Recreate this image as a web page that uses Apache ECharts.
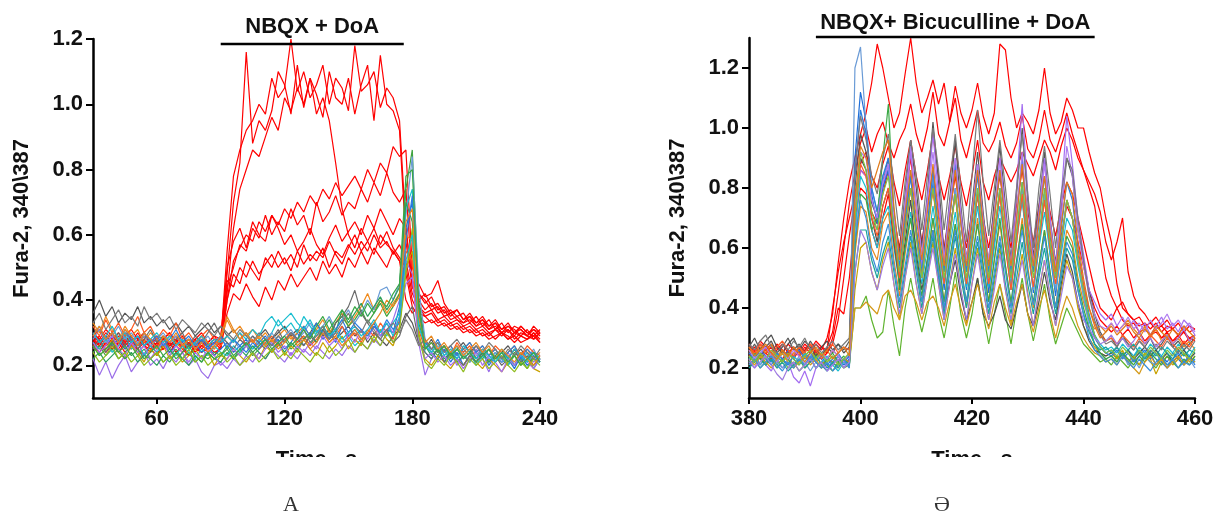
<!DOCTYPE html>
<html>
<head>
<meta charset="utf-8">
<script src="https://cdn.jsdelivr.net/npm/echarts@6/dist/echarts.min.js"></script>
<style>
html, body { margin: 0; padding: 0; background: #fff; }
#main { width: 1217px; height: 516px; }
</style>
</head>
<body>
<div id="main"></div>
<script>
// ---- panel A : NBQX + DoA (time, s) ----
var timeA = [30,33,36,39,42,45,48,51,54,57,60,63,66,69,72,75,78,81,84,87,90,93,96,99,102,105,108,111,114,117,120,123,126,129,132,135,138,141,144,147,150,153,156,159,162,165,168,171,174,177,180,183,186,189,192,195,198,201,204,207,210,213,216,219,222,225,228,231,234,237,240];
var xTicksA = [60, 120, 180, 240];
var yTicks = [0.2, 0.4, 0.6, 0.8, 1.0, 1.2];
var barA = [90, 176];

// responding cells (red)
var aRed1 = [0.30,0.28,0.31,0.29,0.27,0.30,0.28,0.26,0.29,0.27,0.28,0.26,0.27,0.29,0.26,0.28,0.25,0.27,0.26,0.28,0.27,
  0.55,0.78,0.86,0.92,0.95,1.00,0.97,1.08,1.02,1.05, 1.20,1.04,1.10,1.02,1.06,1.12,1.00,1.08,1.05,0.98,
  1.18,1.04,1.06,1.10,0.99,1.05,1.02,0.95,0.62,0.46, 0.42,0.40,0.37,0.38,0.35,0.36,0.34,0.33,0.35,0.32,
  0.34,0.31,0.33,0.30,0.32,0.31,0.29,0.31,0.28,0.30];
var aRed2 = [0.27,0.29,0.26,0.28,0.30,0.27,0.29,0.26,0.28,0.25,0.27,0.29,0.26,0.28,0.27,0.25,0.28,0.26,0.27,0.25,0.28,
  0.48,0.70,0.82,1.16,0.88,0.95,0.92,0.98,1.10,1.06, 0.97,1.12,0.99,1.08,1.03,0.96,1.10,1.02,1.00,1.08,
  0.97,1.06,1.12,0.95,1.15,1.00,0.98,0.92,0.58,0.44, 0.40,0.37,0.39,0.36,0.37,0.34,0.35,0.33,0.34,0.32,
  0.33,0.31,0.32,0.30,0.31,0.29,0.32,0.30,0.31,0.29];
var aRed3 = [0.29,0.27,0.30,0.28,0.26,0.29,0.27,0.30,0.27,0.28,0.26,0.28,0.30,0.27,0.26,0.28,0.27,0.29,0.26,0.27,0.28,
  0.42,0.62,0.74,0.80,0.86,0.84,0.90,0.96,0.92,1.02, 0.98,1.05,1.00,1.08,0.97,1.02,0.95,0.82,0.68,0.60,
  0.56,0.62,0.58,0.54,0.60,0.57,0.55,0.52,0.40,0.36, 0.38,0.35,0.36,0.33,0.34,0.32,0.33,0.31,0.32,0.30,
  0.31,0.29,0.31,0.30,0.28,0.30,0.29,0.28,0.30,0.27];
var aRed4 = [0.26,0.28,0.25,0.27,0.29,0.26,0.28,0.25,0.27,0.26,0.28,0.25,0.27,0.26,0.24,0.27,0.25,0.28,0.26,0.27,0.25,
  0.40,0.52,0.56,0.60,0.58,0.64,0.61,0.66,0.63,0.68, 0.65,0.70,0.67,0.72,0.69,0.74,0.71,0.76,0.72,0.75,
  0.78,0.74,0.80,0.76,0.82,0.79,0.87,0.84,0.86,0.50, 0.45,0.41,0.42,0.46,0.39,0.36,0.37,0.34,0.36,0.33,
  0.35,0.32,0.33,0.31,0.33,0.30,0.32,0.30,0.29,0.31];
var aRed5 = [0.28,0.26,0.29,0.27,0.25,0.28,0.26,0.29,0.26,0.27,0.25,0.28,0.26,0.27,0.29,0.26,0.28,0.25,0.27,0.29,0.26,
  0.44,0.50,0.57,0.55,0.62,0.59,0.66,0.60,0.64,0.61, 0.68,0.63,0.66,0.60,0.70,0.64,0.67,0.72,0.66,0.70,
  0.68,0.74,0.70,0.76,0.72,0.79,0.73,0.70,0.74,0.46, 0.42,0.39,0.41,0.37,0.38,0.35,0.37,0.34,0.35,0.33,
  0.34,0.32,0.34,0.31,0.32,0.30,0.31,0.29,0.31,0.30];
var aRed6 = [0.27,0.25,0.28,0.26,0.24,0.27,0.25,0.28,0.26,0.24,0.27,0.25,0.26,0.28,0.25,0.27,0.24,0.26,0.25,0.27,0.26,
  0.46,0.44,0.50,0.47,0.52,0.48,0.51,0.54,0.50,0.53, 0.49,0.55,0.51,0.54,0.52,0.56,0.50,0.55,0.53,0.57,
  0.54,0.58,0.55,0.60,0.56,0.58,0.54,0.57,0.52,0.42, 0.38,0.36,0.37,0.34,0.35,0.33,0.34,0.32,0.33,0.31,
  0.32,0.30,0.31,0.29,0.31,0.28,0.30,0.29,0.28,0.30];
var aRed7 = [0.25,0.27,0.24,0.26,0.28,0.25,0.27,0.24,0.26,0.25,0.23,0.26,0.24,0.27,0.25,0.23,0.26,0.24,0.25,0.23,0.26,
  0.40,0.48,0.45,0.52,0.49,0.46,0.53,0.50,0.55,0.51, 0.54,0.50,0.57,0.52,0.55,0.53,0.58,0.54,0.51,0.56,
  0.60,0.55,0.58,0.62,0.57,0.61,0.56,0.53,0.50,0.40, 0.36,0.35,0.33,0.34,0.32,0.33,0.31,0.32,0.30,0.31,
  0.29,0.30,0.28,0.30,0.29,0.27,0.29,0.28,0.30,0.28];
var aRed8 = [0.26,0.24,0.27,0.25,0.27,0.24,0.26,0.25,0.23,0.26,0.24,0.25,0.27,0.24,0.26,0.23,0.25,0.24,0.26,0.24,0.25,
  0.36,0.42,0.40,0.45,0.41,0.38,0.44,0.40,0.46,0.43, 0.48,0.44,0.47,0.50,0.46,0.52,0.48,0.51,0.47,0.53,
  0.50,0.55,0.51,0.56,0.53,0.50,0.55,0.52,0.48,0.38, 0.35,0.33,0.34,0.32,0.33,0.31,0.32,0.30,0.31,0.29,
  0.30,0.28,0.29,0.30,0.28,0.29,0.27,0.28,0.29,0.27];
var aRed9 = [0.29,0.31,0.28,0.30,0.27,0.29,0.31,0.28,0.30,0.27,0.29,0.28,0.30,0.27,0.29,0.26,0.28,0.30,0.27,0.29,0.28,
  0.50,0.58,0.62,0.56,0.64,0.60,0.58,0.66,0.62,0.57, 0.60,0.55,0.58,0.62,0.57,0.54,0.59,0.63,0.58,0.61,
  0.64,0.60,0.66,0.62,0.68,0.64,0.60,0.65,0.62,0.44, 0.40,0.42,0.38,0.39,0.36,0.37,0.35,0.36,0.33,0.35,
  0.32,0.34,0.31,0.33,0.30,0.32,0.31,0.29,0.32,0.30];

// non-responding cells
var aCell1 = [0.36,0.40,0.35,0.38,0.33,0.36,0.34,0.38,0.33,0.35,0.32,0.34,0.31,0.33,0.30,0.32,0.29,0.31,0.33,0.30,0.32,
  0.29,0.31,0.28,0.30,0.27,0.29,0.31,0.28,0.30,0.32, 0.29,0.31,0.28,0.30,0.33,0.29,0.31,0.28,0.30,0.32,
  0.29,0.31,0.27,0.30,0.28,0.26,0.29,0.31,0.36,0.33, 0.27,0.25,0.28,0.24,0.26,0.23,0.25,0.27,0.24,0.26,
  0.23,0.25,0.22,0.24,0.26,0.23,0.25,0.22,0.24,0.23];
var aCell2 = [0.22,0.17,0.21,0.16,0.20,0.23,0.18,0.21,0.24,0.20,0.22,0.19,0.23,0.21,0.24,0.20,0.22,0.18,0.16,0.20,0.21,
  0.19,0.22,0.20,0.23,0.21,0.24,0.22,0.25,0.23,0.21, 0.24,0.22,0.25,0.23,0.26,0.24,0.22,0.25,0.23,0.26,
  0.24,0.27,0.25,0.28,0.26,0.30,0.34,0.40,0.52,0.48, 0.27,0.17,0.22,0.25,0.21,0.24,0.20,0.23,0.21,0.25,
  0.22,0.18,0.23,0.21,0.24,0.20,0.22,0.24,0.21,0.23];
var aCell3 = [0.30,0.27,0.29,0.26,0.28,0.25,0.27,0.29,0.26,0.28,0.25,0.27,0.24,0.26,0.28,0.25,0.27,0.24,0.26,0.23,0.25,
  0.27,0.24,0.26,0.28,0.25,0.27,0.29,0.26,0.28,0.25, 0.27,0.30,0.26,0.29,0.31,0.28,0.30,0.27,0.32,0.29,
  0.31,0.28,0.30,0.33,0.29,0.31,0.30,0.38,0.62,0.70, 0.38,0.26,0.24,0.22,0.25,0.21,0.24,0.20,0.23,0.21,
  0.24,0.20,0.23,0.21,0.22,0.19,0.23,0.20,0.22,0.21];
var aCell4 = [0.33,0.30,0.35,0.31,0.28,0.32,0.29,0.31,0.27,0.30,0.28,0.26,0.29,0.27,0.25,0.28,0.26,0.29,0.27,0.25,0.28,
  0.34,0.30,0.32,0.29,0.31,0.28,0.30,0.27,0.29,0.31, 0.28,0.30,0.32,0.29,0.31,0.34,0.30,0.33,0.36,0.32,
  0.35,0.38,0.42,0.37,0.40,0.36,0.39,0.42,0.60,0.58, 0.34,0.28,0.25,0.27,0.24,0.26,0.23,0.25,0.27,0.24,
  0.26,0.23,0.25,0.22,0.24,0.26,0.23,0.25,0.22,0.24];
var aCell5 = [0.24,0.26,0.23,0.25,0.22,0.24,0.26,0.23,0.25,0.22,0.24,0.21,0.23,0.25,0.22,0.24,0.21,0.23,0.22,0.24,0.23,
  0.25,0.22,0.24,0.26,0.23,0.25,0.27,0.24,0.26,0.28, 0.25,0.27,0.29,0.26,0.30,0.32,0.29,0.33,0.35,0.32,
  0.34,0.37,0.33,0.36,0.39,0.35,0.38,0.42,0.74,0.86, 0.40,0.27,0.25,0.23,0.26,0.22,0.25,0.23,0.21,0.24,
  0.22,0.25,0.21,0.23,0.20,0.24,0.22,0.19,0.23,0.21];
var aCell6 = [0.27,0.25,0.28,0.24,0.26,0.29,0.25,0.27,0.23,0.26,0.24,0.27,0.25,0.23,0.26,0.24,0.22,0.25,0.23,0.26,0.24,
  0.23,0.26,0.24,0.27,0.25,0.28,0.26,0.30,0.34,0.31, 0.33,0.30,0.35,0.32,0.29,0.31,0.28,0.30,0.27,0.29,
  0.26,0.28,0.30,0.27,0.31,0.29,0.33,0.36,0.68,0.74, 0.36,0.24,0.22,0.25,0.21,0.23,0.26,0.22,0.24,0.20,
  0.23,0.21,0.24,0.22,0.20,0.23,0.21,0.24,0.19,0.22];
var aCell7 = [0.26,0.23,0.25,0.28,0.24,0.22,0.26,0.24,0.21,0.25,0.23,0.26,0.22,0.24,0.21,0.23,0.25,0.22,0.24,0.20,0.23,
  0.22,0.25,0.23,0.21,0.24,0.22,0.26,0.24,0.27,0.23, 0.26,0.24,0.28,0.25,0.23,0.27,0.24,0.26,0.29,0.25,
  0.28,0.26,0.30,0.27,0.31,0.28,0.26,0.32,0.50,0.55, 0.30,0.22,0.20,0.23,0.21,0.19,0.22,0.20,0.23,0.21,
  0.19,0.22,0.20,0.18,0.21,0.23,0.20,0.22,0.19,0.18];
var aCell8 = [0.28,0.31,0.27,0.29,0.32,0.28,0.30,0.27,0.29,0.26,0.28,0.30,0.27,0.29,0.26,0.28,0.25,0.27,0.29,0.26,0.28,
  0.26,0.28,0.25,0.27,0.29,0.26,0.28,0.30,0.27,0.29, 0.31,0.28,0.30,0.33,0.30,0.32,0.35,0.31,0.34,0.37,
  0.33,0.36,0.40,0.37,0.43,0.44,0.40,0.45,0.66,0.84, 0.44,0.28,0.24,0.26,0.23,0.25,0.22,0.24,0.21,0.23,
  0.25,0.22,0.24,0.21,0.23,0.20,0.24,0.22,0.25,0.21];
var aCell9 = [0.32,0.29,0.34,0.30,0.33,0.29,0.31,0.35,0.30,0.32,0.28,0.31,0.29,0.33,0.28,0.30,0.27,0.29,0.31,0.28,0.26,
  0.29,0.27,0.30,0.26,0.28,0.25,0.27,0.29,0.26,0.28, 0.30,0.27,0.29,0.26,0.28,0.31,0.27,0.29,0.32,0.28,
  0.30,0.27,0.31,0.29,0.33,0.30,0.28,0.34,0.55,0.52, 0.31,0.25,0.27,0.24,0.26,0.23,0.27,0.24,0.26,0.22,
  0.25,0.23,0.26,0.24,0.22,0.25,0.23,0.26,0.24,0.22];
var aCell10 = [0.25,0.28,0.24,0.27,0.30,0.26,0.29,0.25,0.28,0.31,0.27,0.29,0.25,0.28,0.30,0.26,0.29,0.27,0.30,0.33,0.29,
  0.27,0.25,0.28,0.26,0.29,0.27,0.25,0.28,0.31,0.27, 0.30,0.28,0.26,0.29,0.27,0.31,0.28,0.33,0.35,0.38,
  0.43,0.36,0.33,0.30,0.28,0.31,0.27,0.29,0.35,0.38, 0.27,0.24,0.22,0.25,0.21,0.24,0.22,0.20,0.23,0.21,
  0.24,0.21,0.23,0.20,0.22,0.25,0.21,0.23,0.20,0.22];
var aCell11 = [0.22,0.24,0.21,0.23,0.25,0.22,0.24,0.21,0.23,0.22,0.20,0.23,0.21,0.24,0.22,0.20,0.23,0.21,0.24,0.22,0.21,
  0.24,0.22,0.25,0.23,0.26,0.24,0.22,0.25,0.27,0.24, 0.27,0.25,0.28,0.30,0.27,0.31,0.34,0.30,0.37,0.33,
  0.36,0.39,0.35,0.38,0.41,0.37,0.40,0.44,0.70,0.64, 0.33,0.26,0.23,0.25,0.22,0.24,0.21,0.23,0.25,0.22,
  0.24,0.21,0.23,0.25,0.22,0.20,0.23,0.21,0.24,0.22];
var aCell12 = [0.27,0.24,0.26,0.29,0.25,0.23,0.27,0.24,0.26,0.22,0.25,0.27,0.23,0.26,0.24,0.21,0.24,0.22,0.25,0.23,0.20,
  0.22,0.25,0.23,0.26,0.24,0.22,0.25,0.27,0.24,0.26, 0.23,0.26,0.24,0.27,0.25,0.29,0.26,0.28,0.25,0.30,
  0.27,0.31,0.28,0.32,0.29,0.33,0.30,0.35,0.45,0.47, 0.28,0.22,0.24,0.21,0.23,0.20,0.22,0.19,0.22,0.24,
  0.20,0.23,0.21,0.18,0.22,0.20,0.23,0.21,0.19,0.22];
var aCell13 = [0.29,0.32,0.28,0.30,0.27,0.31,0.28,0.26,0.30,0.27,0.29,0.26,0.28,0.31,0.27,0.29,0.26,0.28,0.25,0.27,0.29,
  0.25,0.28,0.26,0.24,0.27,0.25,0.28,0.26,0.29,0.27, 0.30,0.28,0.32,0.29,0.33,0.30,0.28,0.31,0.34,0.30,
  0.33,0.31,0.29,0.32,0.30,0.34,0.31,0.33,0.58,0.72, 0.36,0.27,0.25,0.28,0.24,0.26,0.23,0.25,0.27,0.24,
  0.26,0.23,0.25,0.22,0.24,0.26,0.22,0.25,0.23,0.21];
var aCell14 = [0.24,0.21,0.23,0.26,0.22,0.24,0.21,0.23,0.20,0.22,0.24,0.21,0.23,0.20,0.22,0.25,0.21,0.23,0.20,0.22,0.24,
  0.21,0.23,0.20,0.22,0.24,0.21,0.23,0.25,0.22,0.24, 0.22,0.25,0.23,0.21,0.24,0.22,0.26,0.23,0.25,0.28,
  0.24,0.27,0.25,0.29,0.26,0.30,0.27,0.31,0.48,0.62, 0.29,0.21,0.19,0.22,0.20,0.23,0.21,0.18,0.22,0.20,
  0.22,0.19,0.21,0.23,0.20,0.18,0.21,0.19,0.22,0.20];
var aCell15 = [0.30,0.27,0.29,0.32,0.28,0.30,0.27,0.29,0.26,0.28,0.30,0.27,0.29,0.26,0.28,0.25,0.27,0.29,0.26,0.28,0.27,
  0.29,0.27,0.30,0.28,0.31,0.29,0.33,0.35,0.32,0.34, 0.36,0.33,0.31,0.34,0.30,0.32,0.29,0.31,0.28,0.30,
  0.32,0.29,0.31,0.34,0.30,0.33,0.29,0.35,0.52,0.60, 0.32,0.26,0.24,0.27,0.23,0.25,0.22,0.26,0.24,0.22,
  0.25,0.23,0.21,0.24,0.22,0.25,0.23,0.21,0.24,0.22];
var aCell16 = [0.33,0.36,0.31,0.34,0.37,0.33,0.35,0.32,0.38,0.34,0.36,0.33,0.35,0.31,0.34,0.32,0.30,0.33,0.31,0.29,0.32,
  0.30,0.28,0.31,0.29,0.27,0.30,0.28,0.26,0.29,0.27, 0.30,0.28,0.31,0.27,0.29,0.32,0.28,0.30,0.33,0.36,
  0.32,0.30,0.34,0.31,0.28,0.31,0.33,0.30,0.34,0.31, 0.26,0.28,0.25,0.27,0.24,0.26,0.28,0.25,0.23,0.26,
  0.24,0.27,0.25,0.22,0.25,0.23,0.26,0.24,0.22,0.25];
var aCell17 = [0.29,0.32,0.28,0.30,0.27,0.31,0.29,0.26,0.30,0.28,0.25,0.29,0.27,0.30,0.26,0.28,0.25,0.27,0.24,0.26,0.29,
  0.35,0.31,0.28,0.30,0.27,0.29,0.26,0.28,0.25,0.27, 0.29,0.26,0.28,0.25,0.27,0.30,0.27,0.29,0.26,0.28,
  0.31,0.28,0.30,0.33,0.36,0.40,0.38,0.41,0.64,0.68, 0.35,0.27,0.29,0.25,0.27,0.24,0.26,0.23,0.25,0.27,
  0.24,0.26,0.22,0.25,0.23,0.21,0.24,0.22,0.20,0.23];
var aCell18 = [0.26,0.23,0.25,0.27,0.24,0.26,0.23,0.25,0.22,0.24,0.26,0.23,0.25,0.22,0.24,0.26,0.23,0.21,0.24,0.22,0.23,
  0.26,0.23,0.25,0.27,0.24,0.26,0.28,0.25,0.27,0.29, 0.26,0.28,0.31,0.28,0.32,0.35,0.31,0.34,0.37,0.34,
  0.38,0.35,0.39,0.36,0.40,0.38,0.42,0.45,0.78,0.80, 0.38,0.25,0.27,0.24,0.26,0.23,0.25,0.22,0.24,0.21,
  0.23,0.25,0.22,0.24,0.21,0.23,0.20,0.22,0.24,0.21];

// ---- panel B : NBQX + Bicuculline + DoA (time, s) ----
var timeB = [380,381,382,383,384,385,386,387,388,389,390,391,392,393,394,395,396,397,398,399,400,401,402,403,404,405,406,407,408,409,410,411,412,413,414,415,416,417,418,419,420,421,422,423,424,425,426,427,428,429,430,431,432,433,434,435,436,437,438,439,440,441,442,443,444,445,446,447,448,449,450,451,452,453,454,455,456,457,458,459,460];
var xTicksB = [380, 400, 420, 440, 460];
var barB = [392, 442];

var bRed1 = [0.27,0.25,0.28,0.26,0.24,0.27,0.25,0.28,0.26,0.24,0.27,0.25,0.28,0.26,0.30,0.38,0.55,0.70,0.82,
  0.90,0.98,1.05,1.15,1.28,1.20,1.10,1.00,1.05,1.18,1.30,1.15,
  1.05,1.10,1.16,1.08,1.15,1.02,1.14,1.05,1.00,1.06,1.15,1.04,
  0.98,1.05,1.28,1.26,1.10,1.00,1.05,1.02,0.98,1.06,1.20,1.05,
  0.98,1.02,1.10,1.06,1.00,1.00,0.92,0.85,0.80,0.70,
  0.62,0.48,0.40,0.38,0.36,0.34,0.35,0.33,0.35,0.32,0.34,0.33,0.31,0.34,0.32,0.33];
var bRed2 = [0.25,0.27,0.24,0.26,0.28,0.25,0.23,0.26,0.24,0.27,0.25,0.23,0.26,0.24,0.27,0.32,0.45,0.60,0.75,
  0.85,0.95,1.00,0.92,0.98,1.02,0.95,0.90,0.96,1.00,1.08,0.98,
  0.92,1.00,1.12,0.98,0.94,1.02,1.10,0.96,0.90,0.98,1.06,0.95,
  0.92,0.96,1.02,0.94,0.90,0.95,1.04,0.93,0.90,0.96,1.06,0.96,
  0.92,0.98,1.05,0.98,0.92,0.86,0.80,0.74,0.62,0.50,
  0.44,0.40,0.42,0.38,0.36,0.37,0.34,0.35,0.33,0.34,0.32,0.33,0.31,0.32,0.30,0.31];
var bRed3 = [0.26,0.24,0.27,0.25,0.23,0.26,0.28,0.25,0.27,0.24,0.26,0.28,0.25,0.27,0.26,0.40,0.52,0.62,0.70,
  0.78,0.86,0.84,0.72,0.68,0.78,0.86,0.70,0.60,0.76,0.90,0.74,
  0.62,0.74,0.86,0.72,0.60,0.72,0.84,0.70,0.60,0.72,0.86,0.70,
  0.60,0.72,0.84,0.70,0.60,0.74,0.86,0.72,0.62,0.74,0.84,0.72,
  0.64,0.74,0.82,0.78,0.70,0.62,0.54,0.46,0.40,0.38,
  0.36,0.40,0.36,0.34,0.35,0.32,0.33,0.31,0.32,0.30,0.31,0.29,0.30,0.32,0.29,0.31];
var bRed4 = [0.24,0.26,0.23,0.25,0.27,0.24,0.22,0.25,0.23,0.26,0.24,0.22,0.25,0.23,0.25,0.30,0.40,0.38,0.50,
  0.70,0.80,0.78,0.66,0.60,0.70,0.78,0.62,0.52,0.66,0.80,0.66,
  0.54,0.66,0.80,0.64,0.52,0.66,0.78,0.62,0.52,0.64,0.78,0.62,
  0.52,0.64,0.78,0.62,0.50,0.64,0.76,0.62,0.52,0.64,0.76,0.60,
  0.52,0.64,0.74,0.70,0.62,0.54,0.46,0.40,0.36,0.34,
  0.32,0.34,0.31,0.33,0.30,0.32,0.29,0.31,0.33,0.30,0.32,0.29,0.31,0.28,0.30,0.29];
var bRed5 = [0.28,0.26,0.29,0.27,0.25,0.28,0.26,0.24,0.27,0.25,0.28,0.26,0.29,0.27,0.25,0.28,0.36,0.50,0.64,
  0.76,0.88,0.92,0.84,0.80,0.88,0.94,0.82,0.74,0.86,0.96,0.84,
  0.76,0.86,0.98,0.84,0.76,0.84,0.94,0.82,0.74,0.84,0.96,0.82,
  0.76,0.84,0.90,0.86,0.82,0.86,0.92,0.88,0.84,0.90,0.96,0.92,
  0.86,0.94,1.00,0.96,0.90,0.86,0.82,0.78,0.72,0.62,
  0.56,0.62,0.70,0.52,0.44,0.40,0.38,0.35,0.37,0.34,0.36,0.33,0.35,0.32,0.34,0.33];

var bCell1 = [0.25,0.28,0.24,0.27,0.29,0.25,0.27,0.30,0.26,0.28,0.25,0.29,0.26,0.24,0.27,0.25,0.28,0.26,0.29,
  0.80,0.98,0.92,0.75,0.70,0.82,0.90,0.72,0.58,0.78,0.96,0.80,
  0.60,0.78,1.02,0.82,0.58,0.76,0.96,0.74,0.56,0.74,0.92,0.72,
  0.55,0.76,0.94,0.74,0.56,0.78,1.00,0.76,0.57,0.74,0.92,0.70,
  0.55,0.72,0.90,0.84,0.66,0.56,0.46,0.38,0.32,0.29,
  0.30,0.27,0.31,0.28,0.26,0.29,0.27,0.30,0.26,0.28,0.31,0.27,0.29,0.26,0.28,0.30];
var bCell2 = [0.22,0.20,0.24,0.21,0.19,0.23,0.20,0.22,0.17,0.15,0.19,0.14,0.20,0.22,0.19,0.21,0.24,0.20,0.23,
  0.62,0.86,0.84,0.70,0.66,0.80,0.88,0.70,0.52,0.72,0.92,0.74,
  0.54,0.76,0.98,0.78,0.56,0.74,0.90,0.70,0.52,0.72,0.88,0.68,
  0.50,0.70,0.90,0.72,0.54,0.80,1.08,0.78,0.55,0.72,0.90,0.70,
  0.52,0.76,1.04,0.88,0.70,0.58,0.46,0.42,0.38,0.36,
  0.38,0.34,0.37,0.33,0.36,0.32,0.35,0.31,0.34,0.37,0.33,0.35,0.32,0.36,0.34,0.31];
var bCell3 = [0.24,0.22,0.25,0.23,0.21,0.24,0.22,0.26,0.23,0.21,0.24,0.22,0.25,0.23,0.20,0.22,0.24,0.21,0.23,
  0.90,1.12,1.02,0.78,0.68,0.80,0.86,0.66,0.50,0.68,0.84,0.66,
  0.50,0.66,0.82,0.64,0.46,0.64,0.80,0.62,0.46,0.62,0.78,0.60,
  0.45,0.62,0.80,0.62,0.46,0.64,0.82,0.62,0.45,0.60,0.78,0.58,
  0.44,0.60,0.76,0.70,0.56,0.46,0.36,0.30,0.27,0.25,
  0.26,0.23,0.25,0.22,0.24,0.26,0.23,0.25,0.21,0.24,0.22,0.25,0.23,0.21,0.24,0.22];
var bCell4 = [0.26,0.24,0.27,0.25,0.28,0.24,0.26,0.23,0.25,0.27,0.24,0.26,0.22,0.25,0.23,0.26,0.24,0.22,0.25,
  0.58,0.74,0.72,0.60,0.56,0.68,0.72,0.56,0.44,0.58,0.70,0.56,
  0.42,0.56,0.70,0.55,0.42,0.56,0.68,0.54,0.40,0.55,0.70,0.55,
  0.42,0.56,0.68,0.54,0.41,0.55,0.70,0.54,0.40,0.54,0.66,0.52,
  0.40,0.54,0.66,0.62,0.50,0.42,0.36,0.33,0.34,0.32,
  0.35,0.32,0.34,0.36,0.33,0.31,0.34,0.30,0.33,0.29,0.31,0.28,0.30,0.27,0.29,0.26];
var bCell5 = [0.21,0.23,0.20,0.22,0.24,0.21,0.23,0.20,0.22,0.19,0.21,0.23,0.20,0.22,0.21,0.19,0.22,0.20,0.21,
  0.40,0.40,0.44,0.36,0.30,0.32,0.46,0.34,0.24,0.40,0.50,0.40,
  0.32,0.40,0.50,0.38,0.30,0.40,0.52,0.38,0.30,0.38,0.50,0.38,
  0.28,0.38,0.48,0.38,0.28,0.40,0.50,0.38,0.29,0.38,0.48,0.36,
  0.28,0.34,0.40,0.36,0.32,0.28,0.26,0.24,0.22,0.23,
  0.21,0.24,0.22,0.20,0.23,0.21,0.24,0.22,0.20,0.23,0.21,0.22,0.24,0.21,0.23,0.22];
var bCell6 = [0.23,0.25,0.21,0.24,0.22,0.25,0.23,0.21,0.24,0.22,0.25,0.23,0.20,0.22,0.24,0.21,0.19,0.22,0.24,
  0.66,0.84,0.80,0.66,0.60,0.70,0.74,0.60,0.48,0.60,0.72,0.60,
  0.48,0.60,0.74,0.60,0.48,0.60,0.72,0.58,0.47,0.60,0.74,0.58,
  0.47,0.60,0.74,0.60,0.48,0.62,0.76,0.58,0.47,0.60,0.72,0.58,
  0.46,0.58,0.70,0.66,0.54,0.44,0.36,0.31,0.28,0.26,
  0.27,0.25,0.28,0.26,0.24,0.27,0.25,0.28,0.26,0.24,0.27,0.25,0.28,0.26,0.24,0.27];
var bCell7 = [0.24,0.22,0.25,0.21,0.23,0.20,0.22,0.24,0.21,0.23,0.20,0.22,0.25,0.21,0.23,0.22,0.20,0.23,0.21,
  0.46,0.60,0.62,0.52,0.46,0.56,0.62,0.48,0.36,0.50,0.62,0.48,
  0.38,0.50,0.62,0.48,0.36,0.48,0.60,0.46,0.35,0.48,0.60,0.46,
  0.36,0.48,0.60,0.46,0.35,0.47,0.58,0.45,0.34,0.45,0.56,0.44,
  0.34,0.46,0.56,0.50,0.40,0.34,0.30,0.27,0.25,0.24,
  0.25,0.23,0.26,0.22,0.24,0.21,0.25,0.23,0.18,0.22,0.24,0.21,0.23,0.25,0.22,0.24];
var bCell8 = [0.22,0.24,0.21,0.23,0.25,0.22,0.20,0.23,0.21,0.24,0.22,0.19,0.22,0.20,0.23,0.21,0.24,0.22,0.20,
  1.20,1.27,1.00,0.80,0.72,0.84,0.88,0.66,0.52,0.70,0.86,0.66,
  0.52,0.68,0.84,0.64,0.36,0.62,0.80,0.62,0.48,0.64,0.80,0.60,
  0.48,0.64,0.80,0.62,0.46,0.62,0.80,0.60,0.46,0.62,0.78,0.60,
  0.46,0.60,0.76,0.70,0.56,0.44,0.34,0.28,0.25,0.23,
  0.24,0.22,0.25,0.21,0.23,0.20,0.24,0.22,0.21,0.23,0.20,0.22,0.24,0.21,0.23,0.20];
var bCell9 = [0.27,0.30,0.26,0.29,0.31,0.27,0.25,0.28,0.30,0.26,0.29,0.27,0.24,0.27,0.29,0.26,0.28,0.25,0.27,
  0.72,0.90,0.86,0.70,0.62,0.74,0.80,0.62,0.48,0.62,0.76,0.58,
  0.46,0.56,0.66,0.52,0.40,0.48,0.56,0.44,0.36,0.42,0.50,0.38,
  0.34,0.38,0.44,0.36,0.33,0.40,0.48,0.38,0.34,0.42,0.52,0.42,
  0.36,0.48,0.58,0.52,0.42,0.34,0.29,0.26,0.25,0.24,
  0.25,0.27,0.24,0.26,0.23,0.25,0.27,0.24,0.26,0.23,0.25,0.22,0.24,0.26,0.23,0.25];
var bCell10 = [0.25,0.23,0.26,0.24,0.22,0.25,0.23,0.21,0.24,0.26,0.23,0.25,0.22,0.24,0.21,0.23,0.25,0.22,0.24,
  0.84,1.06,0.98,0.80,0.72,0.84,0.90,0.68,0.54,0.70,0.84,0.66,
  0.52,0.68,0.86,0.66,0.52,0.70,0.88,0.68,0.52,0.68,0.84,0.66,
  0.52,0.70,0.86,0.68,0.52,0.70,0.90,0.66,0.52,0.68,0.84,0.64,
  0.50,0.66,0.82,0.76,0.60,0.48,0.38,0.31,0.27,0.25,
  0.24,0.26,0.23,0.25,0.22,0.24,0.26,0.23,0.25,0.22,0.20,0.23,0.25,0.22,0.24,0.21];
var bCell11 = [0.22,0.25,0.23,0.21,0.24,0.22,0.25,0.23,0.20,0.23,0.21,0.24,0.22,0.20,0.23,0.25,0.22,0.24,0.21,
  0.60,0.78,0.76,0.66,0.70,0.90,1.08,0.70,0.46,0.60,0.70,0.56,
  0.44,0.56,0.70,0.56,0.42,0.56,0.68,0.54,0.42,0.56,0.68,0.54,
  0.42,0.56,0.70,0.54,0.42,0.56,0.68,0.52,0.42,0.54,0.66,0.52,
  0.40,0.52,0.64,0.60,0.48,0.40,0.33,0.28,0.25,0.23,
  0.24,0.22,0.25,0.23,0.21,0.24,0.22,0.25,0.23,0.21,0.24,0.22,0.20,0.23,0.21,0.24];
var bCell12 = [0.27,0.25,0.28,0.26,0.24,0.27,0.29,0.26,0.24,0.27,0.25,0.28,0.26,0.23,0.26,0.28,0.25,0.27,0.26,
  0.70,0.88,0.84,0.70,0.64,0.74,0.80,0.64,0.50,0.66,0.80,0.64,
  0.50,0.64,0.80,0.62,0.48,0.64,0.78,0.60,0.48,0.62,0.78,0.62,
  0.48,0.64,0.78,0.60,0.46,0.62,0.78,0.60,0.47,0.62,0.76,0.60,
  0.48,0.62,0.76,0.70,0.58,0.48,0.40,0.35,0.31,0.29,
  0.30,0.28,0.31,0.29,0.27,0.30,0.28,0.31,0.29,0.27,0.30,0.28,0.26,0.29,0.27,0.30];
var bCell13 = [0.26,0.23,0.25,0.27,0.24,0.22,0.25,0.23,0.26,0.24,0.21,0.24,0.22,0.25,0.23,0.26,0.24,0.22,0.25,
  0.74,0.92,0.90,0.76,0.70,0.82,0.88,0.70,0.56,0.76,0.94,0.74,
  0.58,0.76,0.92,0.74,0.56,0.74,0.90,0.72,0.56,0.72,0.88,0.70,
  0.56,0.72,0.90,0.70,0.54,0.72,0.92,0.70,0.54,0.70,0.88,0.68,
  0.54,0.70,0.94,0.84,0.66,0.54,0.44,0.38,0.34,0.33,
  0.35,0.32,0.34,0.37,0.33,0.35,0.32,0.36,0.33,0.35,0.38,0.34,0.36,0.33,0.35,0.32];
var bCell14 = [0.20,0.22,0.24,0.21,0.23,0.20,0.22,0.19,0.21,0.23,0.20,0.22,0.24,0.21,0.19,0.22,0.20,0.23,0.21,
  0.52,0.66,0.66,0.56,0.50,0.58,0.64,0.52,0.40,0.52,0.64,0.52,
  0.40,0.52,0.64,0.50,0.38,0.52,0.64,0.50,0.40,0.52,0.62,0.50,
  0.38,0.50,0.62,0.48,0.38,0.50,0.62,0.48,0.38,0.50,0.60,0.48,
  0.38,0.50,0.60,0.56,0.46,0.38,0.32,0.28,0.26,0.27,
  0.25,0.27,0.24,0.26,0.28,0.25,0.23,0.26,0.24,0.27,0.25,0.23,0.26,0.24,0.26,0.25];
var bCell15 = [0.23,0.21,0.24,0.22,0.20,0.23,0.25,0.22,0.20,0.22,0.24,0.21,0.23,0.20,0.22,0.24,0.21,0.23,0.22,
  0.40,0.40,0.42,0.40,0.38,0.44,0.46,0.40,0.36,0.44,0.46,0.42,
  0.36,0.42,0.44,0.40,0.34,0.42,0.48,0.40,0.34,0.42,0.48,0.40,
  0.33,0.42,0.48,0.40,0.34,0.42,0.48,0.38,0.32,0.40,0.46,0.38,
  0.30,0.38,0.44,0.40,0.34,0.30,0.27,0.25,0.24,0.22,
  0.23,0.21,0.24,0.22,0.20,0.18,0.22,0.24,0.21,0.23,0.20,0.22,0.24,0.21,0.23,0.22];
var bCell16 = [0.28,0.26,0.29,0.31,0.27,0.25,0.28,0.26,0.29,0.27,0.30,0.26,0.28,0.25,0.27,0.29,0.26,0.28,0.30,
  0.86,1.04,0.96,0.84,0.78,0.90,0.98,0.80,0.64,0.82,0.96,0.84,
  0.66,0.84,1.00,0.86,0.66,0.82,0.98,0.80,0.62,0.84,1.06,0.82,
  0.64,0.80,0.96,0.80,0.62,0.80,0.98,0.78,0.60,0.80,0.94,0.78,
  0.60,0.78,0.90,0.86,0.70,0.56,0.44,0.36,0.31,0.28,
  0.29,0.27,0.30,0.28,0.26,0.29,0.27,0.25,0.28,0.26,0.29,0.27,0.25,0.28,0.26,0.29];
var bCell17 = [0.21,0.23,0.20,0.22,0.24,0.21,0.19,0.22,0.20,0.23,0.21,0.24,0.22,0.20,0.22,0.19,0.21,0.23,0.20,
  0.62,0.76,0.70,0.58,0.52,0.62,0.68,0.54,0.42,0.54,0.66,0.54,
  0.42,0.54,0.66,0.52,0.40,0.54,0.66,0.52,0.42,0.54,0.64,0.52,
  0.40,0.52,0.64,0.52,0.40,0.54,0.66,0.52,0.41,0.52,0.64,0.50,
  0.40,0.52,0.62,0.58,0.46,0.38,0.30,0.26,0.24,0.22,
  0.23,0.21,0.24,0.22,0.20,0.23,0.21,0.19,0.22,0.24,0.21,0.23,0.20,0.22,0.21,0.23];
var bCell18 = [0.24,0.22,0.25,0.23,0.26,0.24,0.22,0.25,0.23,0.21,0.24,0.26,0.23,0.25,0.22,0.24,0.21,0.23,0.25,
  0.70,0.92,0.86,0.72,0.66,0.78,0.84,0.66,0.52,0.66,0.80,0.64,
  0.50,0.66,0.80,0.64,0.50,0.64,0.78,0.62,0.50,0.64,0.80,0.64,
  0.50,0.66,0.80,0.64,0.50,0.66,0.82,0.64,0.50,0.64,0.80,0.62,
  0.50,0.62,0.76,0.70,0.56,0.46,0.37,0.31,0.27,0.25,
  0.26,0.24,0.27,0.25,0.23,0.26,0.24,0.27,0.25,0.23,0.26,0.24,0.27,0.25,0.23,0.26];
var bCell19 = [0.23,0.20,0.22,0.24,0.21,0.18,0.16,0.20,0.22,0.19,0.21,0.23,0.20,0.22,0.19,0.21,0.23,0.20,0.22,
  0.52,0.66,0.62,0.52,0.46,0.54,0.60,0.48,0.38,0.50,0.60,0.48,
  0.38,0.50,0.60,0.48,0.36,0.48,0.58,0.46,0.36,0.48,0.58,0.46,
  0.36,0.46,0.58,0.46,0.36,0.46,0.56,0.44,0.34,0.46,0.56,0.44,
  0.34,0.44,0.54,0.50,0.42,0.36,0.33,0.30,0.28,0.29,
  0.31,0.28,0.30,0.27,0.29,0.32,0.28,0.30,0.27,0.29,0.31,0.28,0.30,0.33,0.29,0.31];
var bCell20 = [0.27,0.24,0.26,0.28,0.25,0.23,0.26,0.24,0.27,0.25,0.22,0.25,0.27,0.24,0.26,0.23,0.25,0.27,0.24,
  0.76,0.94,0.90,0.80,0.86,0.92,0.96,0.74,0.56,0.72,0.86,0.70,
  0.56,0.72,0.88,0.70,0.54,0.70,0.86,0.68,0.54,0.70,0.86,0.68,
  0.54,0.70,0.86,0.68,0.54,0.70,0.88,0.68,0.54,0.70,0.84,0.66,
  0.52,0.68,0.82,0.78,0.62,0.50,0.40,0.34,0.30,0.32,
  0.34,0.31,0.33,0.35,0.32,0.30,0.33,0.31,0.34,0.32,0.30,0.33,0.31,0.34,0.32,0.30];

var cellsA = [aCell1, aCell2, aCell3, aCell4, aCell5, aCell6, aCell7, aCell8, aCell9, aCell10, aCell11, aCell12, aCell13, aCell14, aCell15, aCell16, aCell17, aCell18];
var redsA = [aRed1, aRed2, aRed3, aRed4, aRed5, aRed6, aRed7, aRed8, aRed9];
var cellsB = [bCell1, bCell2, bCell3, bCell4, bCell5, bCell6, bCell7, bCell8, bCell9, bCell10, bCell11, bCell12, bCell13, bCell14, bCell15, bCell16, bCell17, bCell18, bCell19, bCell20];
var redsB = [bRed1, bRed2, bRed3, bRed4, bRed5];

var colorsA = ['#555555','#9b6ee8','#1f6fd8','#f08a1c','#3fa33f','#17bfd0','#c9a100','#6a9bd6','#ff5a1f','#6b6b6b','#2ea05a','#a56ef0','#2a7de1','#8fbc1e','#18bdd0','#7a7a7a','#e8871e','#3aa845'];
var colorsB = ['#555555','#a46ef0','#1f6fd8','#e8871e','#5fb32e','#18bdd0','#c9a100','#6a9bd6','#4d4d4d','#2a7de1','#3aa845','#ff5a26','#b07cf0','#1aa39a','#d49a1a','#7a7a7a','#3b8fd9','#7ec242','#9f7be0','#e07a1a'];
var RED = '#ff0000';
var FONT = 'Liberation Sans, Arial, sans-serif';

var chart = echarts.init(document.getElementById('main'));

function trace(times, values, color, gi) {
    return {
        type: 'line',
        xAxisIndex: gi,
        yAxisIndex: gi,
        data: values.map(function (v, i) { return [times[i], v]; }),
        symbol: 'none',
        showSymbol: false,
        silent: true,
        animation: false,
        lineStyle: { color: color, width: 1.2 },
        itemStyle: { color: color }
    };
}

function xAxisFor(gi, min, max, ticks) {
    return {
        type: 'value', gridIndex: gi, min: min, max: max,
        axisLine: { show: true, onZero: false, lineStyle: { color: '#000', width: 2.5 } },
        axisTick: { show: true, customValues: ticks, length: 6, lineStyle: { color: '#000', width: 2 } },
        axisLabel: { customValues: ticks, margin: 10, color: '#111', fontSize: 22, fontWeight: 'bold', fontFamily: FONT },
        splitLine: { show: false }
    };
}

function yAxisFor(gi, min, max) {
    return {
        type: 'value', gridIndex: gi, min: min, max: max,
        axisLine: { show: true, onZero: false, lineStyle: { color: '#000', width: 2.5 } },
        axisTick: { show: true, customValues: yTicks, length: 7, lineStyle: { color: '#000', width: 2 } },
        axisLabel: {
            customValues: yTicks, margin: 10, color: '#111', fontSize: 22, fontWeight: 'bold', fontFamily: FONT,
            formatter: function (v) { return v.toFixed(1); }
        },
        splitLine: { show: false }
    };
}

// red responders first so the other cells sit on top of them, as in the figure
var series = [];
redsA.forEach(function (d) { series.push(trace(timeA, d, RED, 0)); });
cellsA.forEach(function (d, i) { series.push(trace(timeA, d, colorsA[i % colorsA.length], 0)); });
redsB.forEach(function (d) { series.push(trace(timeB, d, RED, 1)); });
cellsB.forEach(function (d, i) { series.push(trace(timeB, d, colorsB[i % colorsB.length], 1)); });

var option = {
    backgroundColor: '#fff',
    animation: false,
    grid: [
        { left: 93, right: 677, top: 39, bottom: 118 },
        { left: 749, right: 22, top: 38, bottom: 118 }
    ],
    xAxis: [ xAxisFor(0, 30, 240, xTicksA), xAxisFor(1, 380, 460, xTicksB) ],
    yAxis: [ yAxisFor(0, 0.1, 1.2), yAxisFor(1, 0.1, 1.3) ],
    series: series
};
chart.setOption(option);

// annotations: drug bars, titles, axis names, captions
function txt(x, y, text, size, opts) {
    opts = opts || {};
    return {
        type: 'text', x: x, y: y, rotation: opts.rotation || 0, z: 100,
        style: {
            text: text, fill: opts.color || '#111',
            font: (opts.weight || 'bold') + ' ' + size + 'px ' + (opts.family || FONT),
            align: 'center', verticalAlign: opts.va || 'middle',
            textAlign: 'center', textVerticalAlign: opts.va || 'middle'
        }
    };
}

function overlay() {
    var a0 = chart.convertToPixel({ gridIndex: 0 }, [barA[0], 1]);
    var a1 = chart.convertToPixel({ gridIndex: 0 }, [barA[1], 1]);
    var b0 = chart.convertToPixel({ gridIndex: 1 }, [barB[0], 1]);
    var b1 = chart.convertToPixel({ gridIndex: 1 }, [barB[1], 1]);
    var ca = chart.convertToPixel({ gridIndex: 0 }, [135, 0.65]);
    var cb = chart.convertToPixel({ gridIndex: 1 }, [420, 0.7]);
    var g = [
        { type: 'line', z: 100, shape: { x1: a0[0], y1: 44, x2: a1[0], y2: 44 }, style: { stroke: '#000', lineWidth: 2.5 } },
        { type: 'line', z: 100, shape: { x1: b0[0], y1: 37, x2: b1[0], y2: 37 }, style: { stroke: '#000', lineWidth: 2.5 } },
        txt((a0[0] + a1[0]) / 2, 27, 'NBQX + DoA', 22),
        txt((b0[0] + b1[0]) / 2, 23, 'NBQX+ Bicuculline + DoA', 22),
        txt(22, ca[1], 'Fura-2, 340\\387', 22, { rotation: Math.PI / 2 }),
        txt(678, cb[1], 'Fura-2, 340\\387', 22, { rotation: Math.PI / 2 }),
        txt(ca[0], 449, 'Time , s', 22, { va: 'top' }),
        txt(cb[0], 449, 'Time , s', 22, { va: 'top' }),
        { type: 'rect', z: 101, shape: { x: 0, y: 457, width: 1217, height: 25 }, style: { fill: '#fff' } },
        txt(291, 505, 'A', 22, { weight: 'normal', family: 'Liberation Serif, serif', color: '#333' }),
        txt(942, 505, '\u018F', 22, { weight: 'normal', family: 'Liberation Serif, serif', color: '#333' })
    ];
    chart.setOption({ graphic: g });
}
overlay();

window.addEventListener('resize', function () { chart.resize(); overlay(); });
</script>
</body>
</html>
